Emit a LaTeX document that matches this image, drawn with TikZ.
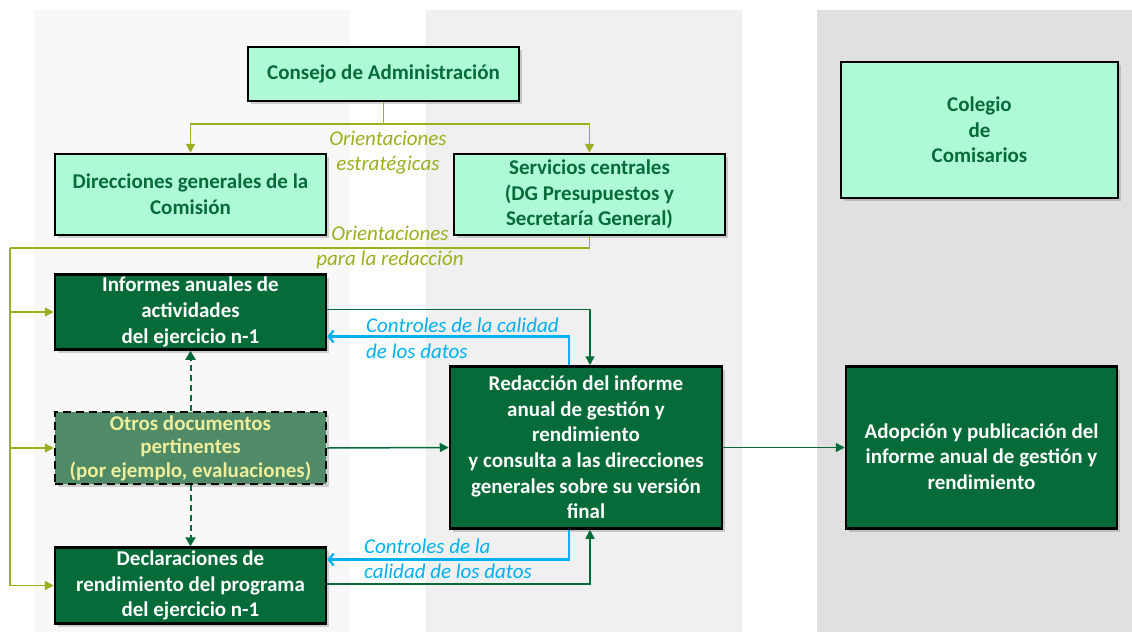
\documentclass[tikz,border=0pt]{standalone}
\usepackage{fontspec}
\setmainfont{Carlito}
\usetikzlibrary{positioning, arrows.meta, shadows, calc}
\definecolor{mint}{HTML}{AFFAD6}
\definecolor{darkgreen}{HTML}{056B39}
\definecolor{olivegreen}{HTML}{9DAE1F}
\definecolor{ctrlblue}{HTML}{00B0F0}
\definecolor{otherfill}{HTML}{4E8B66}
\definecolor{othertext}{HTML}{EFEE9C}
\definecolor{panelA}{HTML}{F8F8F8}
\definecolor{panelB}{HTML}{F0F0F0}
\definecolor{panelC}{HTML}{E0E0E0}

\begin{document}
\begin{tikzpicture}[
    x=1pt, y=1pt,
    node distance=40pt,
    box/.style={rectangle, draw=black, line width=2.5pt, minimum width=271pt, inner sep=1pt, align=center,
        font=\bfseries\fontsize{21}{25.6}\selectfont,
        drop shadow={shadow xshift=3pt, shadow yshift=-3pt, opacity=0.35}},
    lightbox/.style={box, fill=mint, text=darkgreen},
    darkbox/.style={box, fill=darkgreen, text=white},
    otherbox/.style={box, fill=otherfill, text=othertext, dash pattern=on 8pt off 5pt, font=\bfseries\fontsize{21}{23.5}\selectfont},
    olabel/.style={inner sep=0pt, align=center, text=olivegreen, font=\itshape\fontsize{21}{25}\selectfont},
    blabel/.style={inner sep=0pt, align=left, anchor=west, text=ctrlblue, font=\itshape\fontsize{21}{25.5}\selectfont},
    oline/.style={draw=olivegreen, line width=1.6pt},
    oarrow/.style={oline, -{Triangle[length=9pt, width=9pt]}},
    garrow/.style={draw=darkgreen, line width=1.5pt, -{Triangle[length=9pt, width=9pt]}},
    darrow/.style={draw=darkgreen, line width=2pt, dash pattern=on 6pt off 4pt, -{Triangle[length=9pt, width=10pt]}},
    barrow/.style={draw=ctrlblue, line width=2.2pt, -{Straight Barb[length=5pt, width=12pt, line width=2.2pt]}}
]
    \useasboundingbox (0,0) rectangle (1132,-632);

    % Background panels
    \fill[panelA] (34,-10) rectangle (350,-632);
    \fill[panelB] (426,-10) rectangle (742,-632);
    \fill[panelC] (817,-10) rectangle (1132,-632);

    % Top level
    \node[lightbox, minimum height=54pt] (consejo) at (383.5,-74) {Consejo de Administración};
    \node[lightbox, minimum height=81pt] (dirgen) at (190.5,-194.5) {Direcciones generales de la\\Comisión};
    \node[lightbox, minimum height=81pt] (servicios) at (589.5,-194.5) {Servicios centrales\\(DG Presupuestos y\\Secretaría General)};
    \node[lightbox, minimum width=277pt, minimum height=136pt] (colegio) at (979.5,-130) {Colegio\\de\\Comisarios};

    % Input documents
    \node[darkbox, minimum height=75pt, below=37pt of dirgen] (informes) {Informes anuales de\\actividades\\del ejercicio n-1};
    \node[otherbox, minimum height=72pt, below=60pt of informes] (otros) {Otros documentos\\pertinentes\\(por ejemplo, evaluaciones)};
    \node[darkbox, minimum height=76pt, below=61pt of otros] (declar) {Declaraciones de\\rendimiento del programa\\del ejercicio n-1};

    % Report
    \node[darkbox, minimum width=272pt, minimum height=162pt] (redac) at (586,-447.5) {Redacción del informe\\anual de gestión y\\rendimiento\\y consulta a las direcciones\\generales sobre su versión\\final};
    \node[darkbox, minimum height=162pt] (adop) at (981.5,-447.5) {\raisebox{-11pt}[\height][\depth]{\begin{tabular}{@{}c@{}}Adopción y publicación del\\informe anual de gestión y\\rendimiento\end{tabular}}};

    % Orientaciones estratégicas
    \coordinate (split) at ($(consejo.south)+(0,-22)$);
    \draw[oline] (consejo.south) -- (split);
    \draw[oarrow] (split) -| (dirgen.north);
    \draw[oarrow] (split) -| (servicios.north);
    \node[olabel] (lblstrat) at (388,-152.5) {Orientaciones\\estratégicas};

    % Orientaciones para la redaccion
    \coordinate (rail) at (10,-248);
    \draw[oline] (servicios.south) |- (rail);
    \draw[oarrow] (rail) |- (declar.west);
    \draw[oarrow] (rail |- informes.west) -- (informes.west);
    \draw[oarrow] (rail |- otros.west) -- (otros.west);
    \node[olabel] (lblred) at (390,-247.5) {Orientaciones\\para la redacción};

    % Flows into the report
    \draw[garrow] ([yshift=2.5pt]informes.east) -| ([xshift=4pt]redac.north);
    \draw[garrow] (otros.east) -- (redac.west);
    \draw[garrow] ([yshift=1.5pt]declar.east) -| ([xshift=4pt]redac.south);
    \draw[garrow] (redac.east) -- (adop.west);
    \draw[darrow] (otros.north) -- (informes.south);
    \draw[darrow] (otros.south) -- (declar.north);

    % Quality controls
    \draw[barrow] ([xshift=-17pt]redac.north) |- ([yshift=-24.5pt]informes.east);
    \draw[barrow] ([xshift=-17pt]redac.south) |- ([yshift=26pt]declar.east);
    \node[blabel] (lblctrl1) at (366,-338.5) {Controles de la calidad\\de los datos};
    \node[blabel] (lblctrl2) at (364,-559) {Controles de la\\calidad de los datos};
\end{tikzpicture}
\end{document}
